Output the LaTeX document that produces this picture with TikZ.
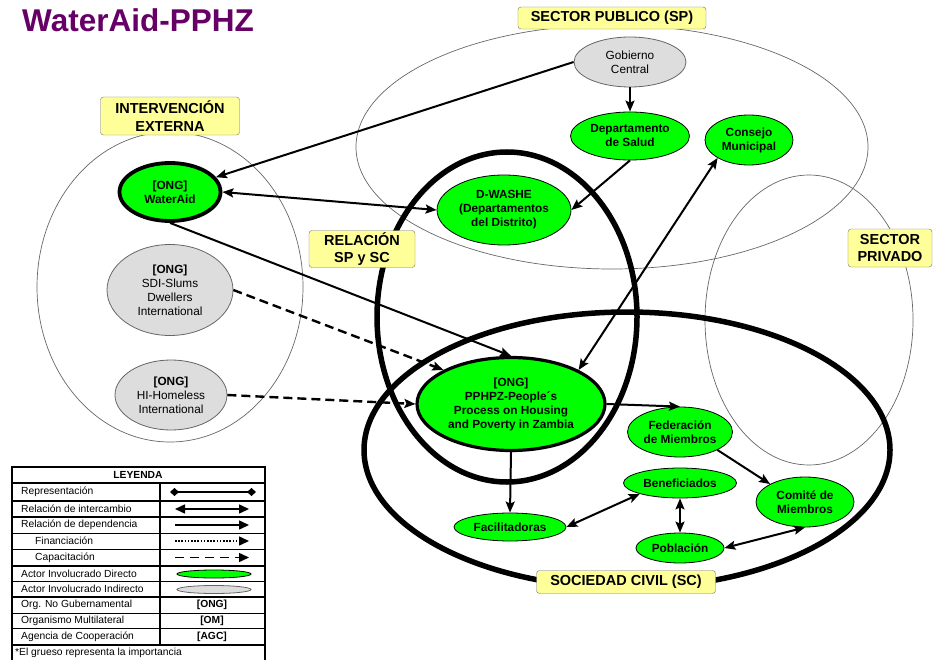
\documentclass[tikz,border=0pt]{standalone}
\usepackage{fontspec}
\setmainfont{Liberation Sans}
\usetikzlibrary{arrows.meta,shapes.geometric}
\definecolor{verde}{HTML}{00FF00}
\definecolor{gris}{HTML}{DDDDDD}
\definecolor{amarillo}{HTML}{FFFF99}
\definecolor{morado}{HTML}{660066}

\begin{document}
\begin{tikzpicture}[x=1pt, y=-1pt,
  directo/.style={ellipse, draw=black, fill=verde, inner sep=0pt, align=center,
                  line width=0.8pt, font=\fontsize{11.8}{14}\selectfont\bfseries},
  indirecto/.style={ellipse, draw=black!60, fill=gris, inner sep=0pt, align=center,
                  line width=0.8pt, font=\fontsize{11.8}{14}\selectfont},
  etiqueta/.style={draw=black!55, fill=amarillo, rounded corners=3pt, inner sep=0pt,
                  align=center, font=\fontsize{14.5}{17.5}\selectfont\bfseries},
  grupo/.style={draw=black!60, line width=0.7pt},
  grupofuerte/.style={draw=black, line width=5.5pt},
  flecha/.style={-{Stealth[length=11pt,width=9pt,inset=2pt]}, line width=2pt},
  doble/.style={{Stealth[length=11pt,width=9pt,inset=2pt]}-{Stealth[length=11pt,width=9pt,inset=2pt]},
                line width=2pt},
  capacita/.style={flecha, dash pattern=on 9pt off 5pt, line width=2.4pt},
  leyenda/.style={anchor=west, inner sep=0pt, font=\fontsize{10.3}{12}\selectfont},
  punta/.style={-{Triangle[length=10pt,width=9pt]}, line width=1.5pt}
]
\useasboundingbox (0,0) rectangle (933,660);

% conjuntos
\draw[grupo] (170,287) ellipse [x radius=133pt, y radius=155pt];
\draw[grupo] (612,147) ellipse [x radius=256pt, y radius=122pt];
\draw[grupo] (809,320) ellipse [x radius=104pt, y radius=145pt];
\draw[grupofuerte] (507,317) ellipse [x radius=130pt, y radius=165pt];
\draw[grupofuerte] (627,450) ellipse [x radius=263pt, y radius=138pt];

\node[anchor=north west, inner sep=0pt, text=morado, font=\fontsize{31.5}{31.5}\selectfont\bfseries]
  (titulo) at (22,8) {WaterAid-PPHZ};

% actores
\node[directo, line width=3.8pt, minimum width=101pt, minimum height=58pt] (wateraid) at (170,192) {[ONG]\\WaterAid};
\node[indirecto, minimum width=126pt, minimum height=91pt] (sdi) at (170,290)
  {\textbf{[ONG]}\\SDI-Slums\\Dwellers\\International};
\node[indirecto, minimum width=112pt, minimum height=70pt] (hi) at (171,395)
  {\textbf{[ONG]}\\HI-Homeless\\International};
\node[indirecto, minimum width=112pt, minimum height=50pt] (gobierno) at (630,62) {Gobierno\\Central};
\node[directo, minimum width=119pt, minimum height=48pt] (salud) at (630,136) {Departamento\\de Salud};
\node[directo, minimum width=88pt, minimum height=50pt] (consejo) at (749,140) {Consejo\\Municipal};
\node[directo, minimum width=134pt, minimum height=70pt] (dwashe) at (504,210)
  {D-WASHE\\(Departamentos\\del Distrito)};
\node[directo, line width=3.2pt, minimum width=188pt, minimum height=93pt] (pphpz) at (511,404)
  {[ONG]\\PPHPZ-People´s\\Process on Housing\\and Poverty in Zambia};
\node[directo, minimum width=105pt, minimum height=50pt] (federacion) at (680,432) {Federación\\de Miembros};
\node[directo, minimum width=98pt, minimum height=50pt] (comite) at (805,502) {Comité de\\Miembros};
\node[directo, minimum width=113pt, minimum height=30pt] (benef) at (680,483) {Beneficiados};
\node[directo, minimum width=112pt, minimum height=28pt] (facil) at (510,527) {Facilitadoras};
\node[directo, minimum width=88pt, minimum height=30pt] (poblacion) at (680,548) {Población};

% relaciones
\draw[flecha] (gobierno.west) -- (wateraid);
\draw[flecha] (gobierno) -- (salud);
\draw[flecha] (salud.south) -- (dwashe.east);
\draw[doble] (wateraid.east) -- (dwashe.west);
\draw[flecha] (wateraid.south) -- (pphpz.north);
\draw[doble] (pphpz.north east) -- (consejo.south west);
\draw[capacita] (sdi.east) -- (pphpz.north west);
\draw[capacita] (hi.east) -- (pphpz.west);
\draw[flecha] (pphpz.east) -- (federacion.north);
\draw[flecha] (federacion.south east) -- (comite.north west);
\draw[flecha] (pphpz.south) -- (facil.north);
\draw[doble] (facil.east) -- (benef.south west);
\draw[doble] (benef) -- (poblacion);
\draw[doble] (poblacion.east) -- (comite.south);

% etiquetas de los conjuntos
\node[etiqueta, minimum width=139pt, minimum height=38pt] (ie) at (170,116) {INTERVENCIÓN\\EXTERNA};
\node[etiqueta, minimum width=188pt, minimum height=22pt] (sp) at (612,18) {SECTOR PUBLICO (SP)};
\node[etiqueta, minimum width=106pt, minimum height=37pt] (rel) at (362,249) {RELACIÓN\\SP y SC};
\node[etiqueta, minimum width=84pt, minimum height=38pt] (priv) at (890,248) {SECTOR\\PRIVADO};
\node[etiqueta, minimum width=179pt, minimum height=23pt] (sc) at (626,582) {SOCIEDAD CIVIL (SC)};

% leyenda
\fill[white] (12,467) rectangle (265,665);
\draw[line width=1.5pt] (12,665) -- (12,467) -- (265,467) -- (265,665);
\draw[line width=1.2pt] (12,483) -- (265,483) (12,501) -- (265,501) (12,517) -- (265,517)
  (12,566) -- (265,566) (12,597) -- (265,597) (12,645) -- (265,645);
\draw[line width=0.6pt] (12,533) -- (265,533) (12,549) -- (265,549) (12,581) -- (265,581)
  (12,613) -- (265,613) (12,628) -- (265,628);
\draw[line width=1.2pt] (160,483) -- (160,645);
\node[inner sep=0pt, font=\fontsize{10.3}{12}\selectfont\bfseries] (leytit) at (138,475) {LEYENDA};
\node[leyenda] (ley1) at (21,492) {Representación};
\node[leyenda] (ley2) at (21,509) {Relación de intercambio};
\node[leyenda] (ley3) at (21,525) {Relación de dependencia};
\node[leyenda] (ley4) at (35,541) {Financiación};
\node[leyenda] (ley5) at (35,557.5) {Capacitación};
\node[leyenda] (ley6) at (21,573.5) {Actor Involucrado Directo};
\node[leyenda] (ley7) at (21,589) {Actor Involucrado Indirecto};
\node[leyenda] (ley8) at (21,605) {Org. No Gubernamental};
\node[leyenda] (ley9) at (21,620.5) {Organismo Multilateral};
\node[leyenda] (ley10) at (21,636.5) {Agencia de Cooperación};
\node[leyenda] (ley11) at (15,653) {*El grueso representa la importancia};
\draw[{Diamond[length=9pt,width=8pt]}-{Diamond[length=9pt,width=8pt]}, line width=1.3pt] (170,492) -- (256,492);
\draw[{Triangle[length=10pt,width=9pt]}-{Triangle[length=10pt,width=9pt]}, line width=1.5pt] (175,509) -- (249,509);
\draw[punta] (175,525) -- (249,525);
\draw[punta, dash pattern=on 1.6pt off 1.6pt] (175,541) -- (249,541);
\draw[punta, dash pattern=on 9pt off 6pt] (175,557.5) -- (249,557.5);
\draw[fill=verde, line width=0.8pt] (214,574) ellipse [x radius=37pt, y radius=4pt];
\draw[fill=gris, draw=black!60, line width=0.8pt] (214,589.5) ellipse [x radius=37pt, y radius=4pt];
\node[inner sep=0pt, font=\fontsize{10.3}{12}\selectfont\bfseries] (ong) at (212,605) {[ONG]};
\node[inner sep=0pt, font=\fontsize{10.3}{12}\selectfont\bfseries] (om) at (212,620.5) {[OM]};
\node[inner sep=0pt, font=\fontsize{10.3}{12}\selectfont\bfseries] (agc) at (212,636.5) {[AGC]};
\end{tikzpicture}
\end{document}
